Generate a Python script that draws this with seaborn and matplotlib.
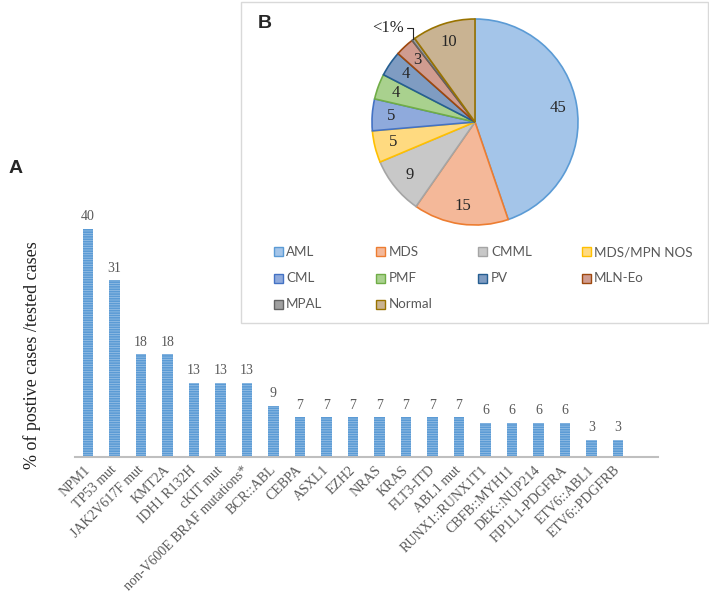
import numpy as np
import pandas as pd
import matplotlib
matplotlib.use('Agg')
import matplotlib.pyplot as plt
from matplotlib.patches import Rectangle
import seaborn as sns

# bar chart data (panel A)
genes = ['NPM1', 'TP53 mut', 'JAK2V617F mut', 'KMT2A', 'IDH1 R132H', 'cKIT mut',
         'non-V600E BRAF mutations*', 'BCR::ABL', 'CEBPA', 'ASXL1', 'EZH2', 'NRAS',
         'KRAS', 'FLT3-ITD', 'ABL1 mut', 'RUNX1::RUNX1T1', 'CBFB::MYH11',
         'DEK::NUP214', 'FIP1L1-PDGFRA', 'ETV6::ABL1', 'ETV6::PDGFRB']
pct_pos = [40, 31, 18, 18, 13, 13, 13, 9, 7, 7, 7, 7, 7, 7, 7, 6, 6, 6, 6, 3, 3]

# pie chart data (panel B)
diag = ['AML', 'MDS', 'CMML', 'MDS/MPN NOS', 'CML', 'PMF', 'PV', 'MLN-Eo', 'MPAL', 'Normal']
diag_pct = [45, 15, 9, 5, 5, 4, 4, 3, 0.5, 10]
diag_lbl = ['45', '15', '9', '5', '5', '4', '4', '3', '', '10']
edge_cols = ['#5B9BD5', '#ED7D31', '#A5A5A5', '#FFC000', '#4472C4', '#70AD47',
             '#255E91', '#9E480E', '#636363', '#997300']
fill_cols = ['#A4C5E9', '#F4B899', '#C8C8C8', '#FFDA80', '#8FAADC', '#A9D18E',
             '#7F9CC2', '#D09C90', '#A0A0A0', '#C9B392']

W, H = 709, 597
serif = ['Liberation Serif', 'DejaVu Serif']
grey = '#595959'

sns.set_style('white')
plt.rcParams['font.family'] = serif
plt.rcParams['hatch.linewidth'] = 1.2

fig = plt.figure(figsize=(W / 100, H / 100), dpi=100)

# ---- panel A: bars
ax = fig.add_axes([74.75 / W, 1 - 457 / H, 583 / W, 256.5 / H])
df = pd.DataFrame({'gene': genes, 'pct': pct_pos})
sns.barplot(data=df, x='gene', y='pct', ax=ax, color='#9DC3E6', saturation=1,
            width=0.38, edgecolor='#5B9BD5', linewidth=0)
for p in ax.patches:
    p.set_hatch('-------')
ax.bar_label(ax.containers[0], padding=4, fontsize=10, color=grey, family=serif)
ax.set_xlim(-0.5, 21.5)
ax.set_ylim(0, 45)
sns.despine(ax=ax, left=True)
ax.spines['bottom'].set_color('#BFBFBF')
ax.spines['bottom'].set_linewidth(1.5)
ax.set_yticks([])
ax.set_xlabel('')
ax.tick_params(axis='x', length=0, pad=8, colors=grey)
ax.set_xticks(range(len(genes)))
ax.set_xticklabels(genes, rotation=45, ha='right', va='center',
                   rotation_mode='anchor', fontsize=10, color=grey)
ax.set_ylabel('% of postive cases /tested cases', fontsize=13, color='#222222')
ax.yaxis.set_label_coords(-0.058, 0.398)

fig.text(9 / W, 1 - 169 / H, 'A', fontsize=14, fontweight='bold',
         family=['Liberation Sans', 'DejaVu Sans'], va='center')

# ---- panel B: pie in a framed box
fig.patches.append(Rectangle((241 / W, 1 - 323 / H), 467 / W, 321 / H,
                             transform=fig.transFigure, fill=False,
                             edgecolor='#D9D9D9', linewidth=1))
fig.text(265 / W, 1 - 23 / H, 'B', fontsize=14, fontweight='bold',
         family=['Liberation Sans', 'DejaVu Sans'], va='center', ha='center')

ax2 = fig.add_axes([(475 - 103) / W, 1 - (122 + 103) / H, 206 / W, 206 / H])
wedges, texts = ax2.pie(diag_pct, labels=diag_lbl, colors=fill_cols, startangle=90,
                        counterclock=False, labeldistance=0.82,
                        textprops=dict(fontsize=12, color='#262626', family=serif))
for w, ec in zip(wedges, edge_cols):
    w.set_edgecolor(ec)
    w.set_linewidth(1.2)
for t in texts:
    t.set_ha('center')
    t.set_va('center')
ax2.set_xlim(-1, 1)
ax2.set_ylim(-1, 1)
ax2.set_aspect('equal')

# leader line for the tiny MPAL slice
mp = wedges[diag.index('MPAL')]
ang = np.deg2rad((mp.theta1 + mp.theta2) / 2)
ax2.annotate('<1%', xy=(np.cos(ang), np.sin(ang)), xytext=(-0.845, 0.913),
             ha='center', va='center', fontsize=12, color='#262626', family=serif,
             arrowprops=dict(arrowstyle='-', color='#262626', lw=0.8,
                             connectionstyle='angle,angleA=0,angleB=90,rad=0',
                             shrinkA=0, shrinkB=0),
             annotation_clip=False)

# legend laid out as a 4 column grid
col_x = [278, 381, 483, 586]
row_y = [252, 278, 304]
for i, (name, fc, ec) in enumerate(zip(diag, fill_cols, edge_cols)):
    x, y = col_x[i % 4], row_y[i // 4]
    fig.patches.append(Rectangle(((x - 4.5) / W, 1 - (y + 4.5) / H), 9 / W, 9 / H,
                                 transform=fig.transFigure, facecolor=fc,
                                 edgecolor=ec, linewidth=1))
    fig.text((x + 8) / W, 1 - y / H, name, fontsize=9.6, color=grey,
             family=['Lato', 'DejaVu Sans'], va='center', ha='left')

fig.savefig('out.png', dpi=100)
